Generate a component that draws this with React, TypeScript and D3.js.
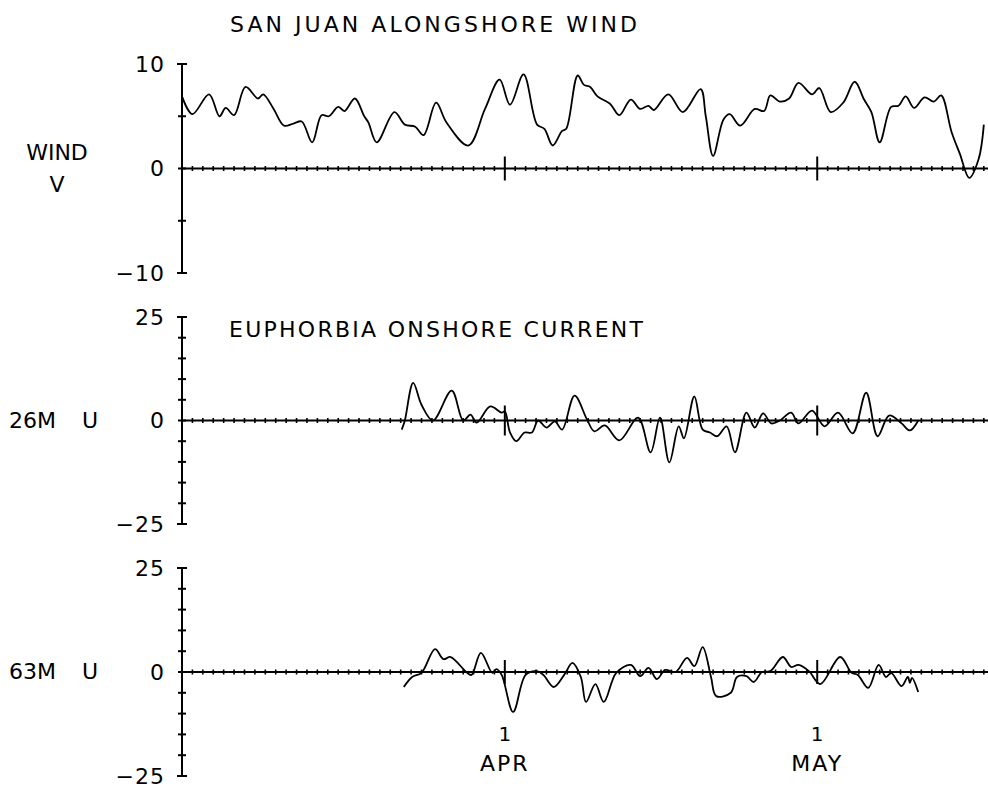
import React, { useEffect, useRef } from 'react';
import * as d3 from 'd3';

// days counted from 1 March
const monthDays = [31, 61];
const monthNames = ['APR', 'MAY'];

const windV: [number, number][] = [
  [0, 6.9], [1.0, 5.2], [2.6, 7.1], [3.6, 5.0], [4.2, 5.8], [5.0, 5.1], [6.1, 7.8], [7.3, 6.7],
  [7.8, 7.1], [8.8, 5.7], [9.8, 4.1], [10.7, 4.3], [11.5, 4.5], [12.5, 2.5], [13.4, 5.1], [14.1, 5.0],
  [15.0, 5.9], [15.6, 5.5], [16.6, 6.7], [17.5, 5.0], [17.9, 4.4], [18.7, 2.5], [20.4, 5.4], [21.4, 4.2],
  [22.4, 4.0], [23.2, 3.2], [24.4, 6.3], [25.4, 4.4], [27.5, 2.2], [29.1, 5.7], [30.5, 8.5], [31.5, 6.1],
  [32.8, 9.0], [34.1, 4.2], [34.8, 3.8], [35.6, 2.2], [36.5, 3.6], [36.9, 3.8], [38.0, 8.9], [38.6, 8.0],
  [39.2, 7.8], [39.9, 6.9], [41.1, 6.2], [42.0, 5.1], [43.1, 6.6], [44.0, 5.7], [44.8, 6.0], [45.3, 5.6],
  [46.7, 7.1], [48.1, 5.4], [49.8, 7.6], [50.3, 5.0], [51.0, 1.2], [52.0, 4.7], [52.6, 5.2], [53.6, 4.1],
  [55.0, 5.7], [55.9, 5.5], [56.5, 7.0], [57.4, 6.4], [58.3, 6.7], [59.2, 8.2], [60.5, 7.1], [61.2, 7.7],
  [62.3, 5.4], [63.5, 6.3], [64.6, 8.3], [65.5, 6.6], [66.2, 5.4], [67.0, 2.5], [68.1, 5.9], [68.8, 6.0],
  [69.5, 6.9], [70.3, 5.8], [71.3, 6.8], [72.2, 6.4], [72.9, 7.0], [73.9, 3.5], [74.7, 1.4], [75.6, -0.9],
  [76.5, 0.9], [77.0, 4.2],
];

const u26: [number, number][] = [
  [21.1, -2.2], [21.4, 0], [22.2, 9.1], [23.0, 3.8], [24.1, 0], [25.9, 7.2], [27.0, 0], [27.7, 1.4],
  [28.3, -0.5], [29.6, 3.4], [30.7, 1.9], [31.0, 2.2], [31.5, -2.9], [32.1, -5.0], [32.9, -2.9], [33.6, -2.9],
  [34.2, 0], [35.0, -1.7], [35.8, -0.2], [36.5, -2.2], [37.7, 6.0], [38.9, 0.2], [39.6, -2.6], [40.6, -1.2],
  [42.0, -4.8], [43.8, 0.7], [45.0, -7.7], [45.9, 0.7], [46.8, -10.1], [47.7, -1.4], [48.2, -4.3], [49.2, 5.8],
  [50.0, -2.2], [50.7, -2.9], [51.4, -3.8], [52.3, -1.4], [53.1, -7.7], [54.2, 1.9], [55.0, -1.7], [55.8, 1.7],
  [56.6, -0.7], [57.4, 0], [58.5, 1.9], [59.2, -0.7], [60.5, 2.4], [61.7, -1.4], [63.0, 1.9], [64.4, -3.1],
  [65.7, 6.7], [66.8, -3.8], [67.9, 1.2], [69.1, -0.7], [69.9, -2.4], [70.7, 0],
];

const u63: [number, number][] = [
  [21.3, -3.6], [22.1, -1.2], [23.0, -0.2], [24.3, 5.5], [25.1, 3.1], [25.8, 3.6], [27.3, 0], [27.8, -0.7],
  [28.7, 4.6], [29.8, -0.2], [30.2, 0.7], [30.7, -0.7], [31.8, -9.6], [33.0, -0.7], [34.1, 0.2], [34.7, -0.7],
  [35.7, -3.6], [36.7, -0.7], [37.5, 2.2], [38.3, -1.2], [38.8, -7.2], [39.7, -2.9], [40.5, -7.2], [41.7, -0.2],
  [43.1, 1.7], [44.0, -1.0], [44.8, 1.0], [45.6, -1.7], [46.4, 0.5], [47.4, 0], [48.5, 3.4], [49.2, 1.4],
  [50.0, 6.0], [50.8, -1.2], [51.3, -5.8], [52.7, -5.0], [53.3, -1.2], [54.2, -1.0], [54.9, -2.4], [55.7, 0],
  [56.5, 0.2], [57.7, 3.6], [58.5, 1.2], [59.2, 1.7], [60.2, 0.2], [61.3, -2.9], [63.2, 3.6], [64.3, -0.2],
  [64.9, -0.7], [65.9, -3.8], [66.9, 1.7], [67.6, -1.2], [68.1, -0.2], [69.1, -3.4], [69.7, -1.2], [69.9, -2.6],
  [70.1, -1.4], [70.7, -4.8],
];

const FONT = 'DejaVu Sans';

const App: React.FC = () => {
  const svgRef = useRef<SVGSVGElement>(null);

  useEffect(() => {
    if (!svgRef.current) return;
    document.body.style.margin = '0';

    const svg = d3.select(svgRef.current).html('');
    svg.append('rect').attr('width', 988).attr('height', 789).attr('fill', '#fff');

    const x = d3.scaleLinear().domain([0, 77.4]).range([182, 988]);

    const panels = [
      { data: windV, lim: 10, step: 5, top: 64, bottom: 273, monthTick: 12,
        title: 'SAN JUAN ALONGSHORE WIND', titleX: 230, titleY: 32, titleW: 407,
        side: [{ t: 'WIND', x: 57, y: 160, a: 'middle' }, { t: 'V', x: 57, y: 192, a: 'middle' }] },
      { data: u26, lim: 25, step: 5, top: 317, bottom: 524, monthTick: 15,
        title: 'EUPHORBIA ONSHORE CURRENT', titleX: 229, titleY: 337, titleW: 414,
        side: [{ t: '26M', x: 9, y: 428, a: 'start' }, { t: 'U', x: 82, y: 428, a: 'start' }] },
      { data: u63, lim: 25, step: 5, top: 568, bottom: 776, monthTick: 12,
        title: '', titleX: 0, titleY: 0, titleW: 0,
        side: [{ t: '63M', x: 9, y: 679, a: 'start' }, { t: 'U', x: 82, y: 679, a: 'start' }] },
    ];

    panels.forEach(p => {
      const y = d3.scaleLinear().domain([-p.lim, p.lim]).range([p.bottom, p.top]);
      const g = svg.append('g');
      const x0 = x(0);
      const y0 = y(0);

      // vertical axis
      g.append('line')
        .attr('x1', x0).attr('x2', x0)
        .attr('y1', y(p.lim)).attr('y2', y(-p.lim))
        .attr('stroke', '#000').attr('stroke-width', 2);

      d3.range(-p.lim, p.lim + 1, p.step).forEach(v => {
        const w = Math.abs(v) === p.lim ? 5 : 4;
        g.append('line')
          .attr('x1', x0 - w).attr('x2', x0 + w)
          .attr('y1', y(v)).attr('y2', y(v))
          .attr('stroke', '#000').attr('stroke-width', 2);
      });

      [p.lim, 0, -p.lim].forEach(v => {
        g.append('text')
          .attr('x', x0 - 17)
          .attr('y', y(v))
          .attr('dy', '0.36em')
          .attr('text-anchor', 'end')
          .attr('font-family', FONT)
          .attr('font-size', 22)
          .attr('letter-spacing', 1)
          .text(v < 0 ? `\u2212${-v}` : `${v}`);
      });

      // zero line with daily ticks
      g.append('line')
        .attr('x1', x0).attr('x2', x(77.4))
        .attr('y1', y0).attr('y2', y0)
        .attr('stroke', '#000').attr('stroke-width', 2);

      g.selectAll('line.day')
        .data(d3.range(1, 78).filter(d => !monthDays.includes(d)))
        .join('line')
        .attr('class', 'day')
        .attr('x1', d => x(d)).attr('x2', d => x(d))
        .attr('y1', y0 - 2.5).attr('y2', y0 + 2.5)
        .attr('stroke', '#000').attr('stroke-width', 1.6);

      g.selectAll('line.month')
        .data(monthDays)
        .join('line')
        .attr('class', 'month')
        .attr('x1', d => x(d)).attr('x2', d => x(d))
        .attr('y1', y0 - p.monthTick).attr('y2', y0 + p.monthTick)
        .attr('stroke', '#000').attr('stroke-width', 2);

      // series
      const line = d3.line<[number, number]>()
        .x(d => x(d[0]))
        .y(d => y(d[1]))
        .curve(d3.curveCatmullRom.alpha(0.5));

      g.append('path')
        .datum(p.data)
        .attr('fill', 'none')
        .attr('stroke', '#000')
        .attr('stroke-width', 1.8)
        .attr('stroke-linejoin', 'round')
        .attr('d', line);

      if (p.title) {
        g.append('text')
          .attr('x', p.titleX)
          .attr('y', p.titleY)
          .attr('font-family', FONT)
          .attr('font-size', 22)
          .attr('textLength', p.titleW)
          .attr('lengthAdjust', 'spacing')
          .text(p.title);
      }

      p.side.forEach(s => {
        g.append('text')
          .attr('x', s.x)
          .attr('y', s.y)
          .attr('text-anchor', s.a)
          .attr('font-family', FONT)
          .attr('font-size', 22)
          .text(s.t);
      });
    });

    // month labels under the bottom panel
    monthDays.forEach((d, i) => {
      svg.append('text')
        .attr('x', x(d)).attr('y', 741)
        .attr('text-anchor', 'middle')
        .attr('font-family', FONT).attr('font-size', 20)
        .text('1');
      svg.append('text')
        .attr('x', x(d)).attr('y', 771)
        .attr('text-anchor', 'middle')
        .attr('font-family', FONT).attr('font-size', 22)
        .attr('letter-spacing', 2)
        .text(monthNames[i]);
    });
  }, []);

  return <svg ref={svgRef} width={988} height={789} style={{ display: 'block' }}></svg>;
};

export default App;
